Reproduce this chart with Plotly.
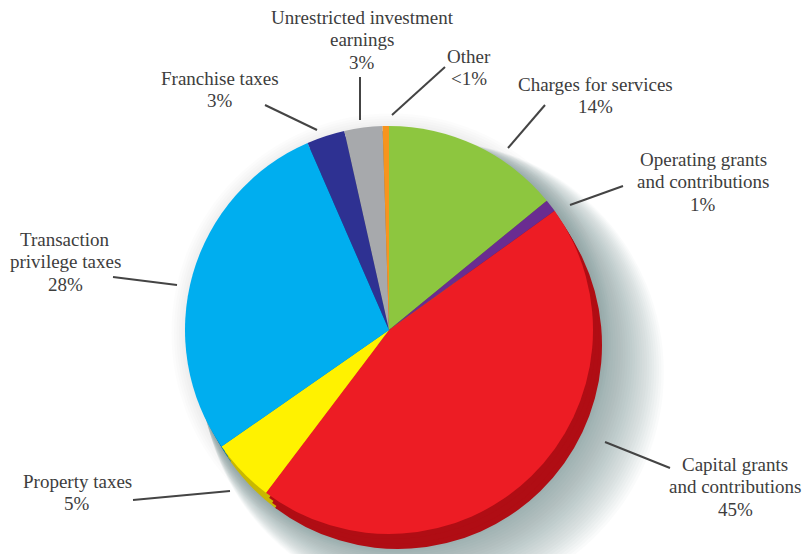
import plotly.graph_objects as go

# Revenue sources, clockwise from 12 o'clock
categories = [
    "Charges for services",
    "Operating grants and contributions",
    "Capital grants and contributions",
    "Property taxes",
    "Transaction privilege taxes",
    "Franchise taxes",
    "Unrestricted investment earnings",
    "Other",
]
shares = [14, 1, 45, 5, 28, 3, 3, 0.5]
share_labels = ["14%", "1%", "45%", "5%", "28%", "3%", "3%", "<1%"]
label_lines = [
    ["Charges for services"],
    ["Operating grants", "and contributions"],
    ["Capital grants", "and contributions"],
    ["Property taxes"],
    ["Transaction", "privilege taxes"],
    ["Franchise taxes"],
    ["Unrestricted investment", "earnings"],
    ["Other"],
]

face_colors = ["#8dc63f", "#6a2c91", "#ed1c24", "#fff200",
               "#00aeef", "#2e3192", "#a7a9ac", "#f7941d"]
side_colors = ["#5f8a25", "#45195f", "#b00d14", "#c9b800",
               "#0079a8", "#1c1e60", "#74767a", "#b8680e"]

W, H = 804, 554
CX, CY, R = 389, 330, 204          # pie face centre and radius, px
FONT = "Liberation Serif"
FONT_SIZE = 19
LINE_GAP = 22.5


def domain(cx, cy, r):
    return dict(x=[(cx - r) / W, (cx + r) / W],
                y=[(H - cy - r) / H, (H - cy + r) / H])


def pie(colors, cx, cy, r):
    return go.Pie(values=shares, labels=categories, sort=False,
                  direction="clockwise", rotation=0, textinfo="none",
                  hoverinfo="skip", showlegend=False,
                  marker=dict(colors=colors, line=dict(width=0)),
                  domain=domain(cx, cy, r))


fig = go.Figure()

# faint halo all round the disc
for k in range(6):
    rr = R + 3 + 2.5 * k
    fig.add_shape(type="circle", xref="x", yref="y", layer="below",
                  x0=CX + 2 - rr, x1=CX + 2 + rr,
                  y0=CY + 3 - rr, y1=CY + 3 + rr,
                  fillcolor="rgba(120,125,140,0.025)", line=dict(width=0))

# soft drop shadow, bottom right
for k in range(28):
    ox, oy, rr = CX + 6 + 1.4 * k, CY + 10 + 1.2 * k, R + 1.0 * k
    fig.add_shape(type="circle", xref="x", yref="y", layer="below",
                  x0=ox - rr, x1=ox + rr, y0=oy - rr, y1=oy + rr,
                  fillcolor="rgba(110,116,136,0.03)", line=dict(width=0))

# extruded side of the disc
for dx, dy in [(9, 15), (6, 10), (3, 5)]:
    fig.add_trace(pie(side_colors, CX + dx, CY + dy, R))
# top face
fig.add_trace(pie(face_colors, CX, CY, R))

# label blocks: centre x and first-line centre y (px)
label_pos = [
    (595, 84), (703, 159), (735, 464), (77, 481),
    (65, 239), (220, 78), (362, 17), (469, 56),
]
# leader line endpoints (px)
leaders = [
    ((545, 105), (508, 148)),
    ((623, 186), (570, 205)),
    ((605, 442), (670, 468)),
    ((133, 500), (230, 491)),
    ((113, 277), (177, 285)),
    ((265, 105), (317, 130)),
    ((360, 77), (360, 120)),
    ((445, 67), (392, 115)),
]

for lines, pct, (lx, ly) in zip(label_lines, share_labels, label_pos):
    for i, line in enumerate(lines + [pct]):
        fig.add_annotation(x=lx, y=ly + i * LINE_GAP, xref="x", yref="y",
                           text=line, showarrow=False,
                           xanchor="center", yanchor="middle",
                           font=dict(family=FONT, size=FONT_SIZE,
                                     color="#3d3d3d"))

for (x0, y0), (x1, y1) in leaders:
    fig.add_shape(type="line", x0=x0, y0=y0, x1=x1, y1=y1,
                  xref="x", yref="y",
                  line=dict(color="#444444", width=2))

fig.update_layout(
    width=W, height=H,
    margin=dict(l=0, r=0, t=0, b=0),
    paper_bgcolor="white", plot_bgcolor="rgba(0,0,0,0)",
    font=dict(family=FONT),
    xaxis=dict(range=[0, W], visible=False, fixedrange=True),
    yaxis=dict(range=[H, 0], visible=False, fixedrange=True),
)

fig.write_html("out.html")
